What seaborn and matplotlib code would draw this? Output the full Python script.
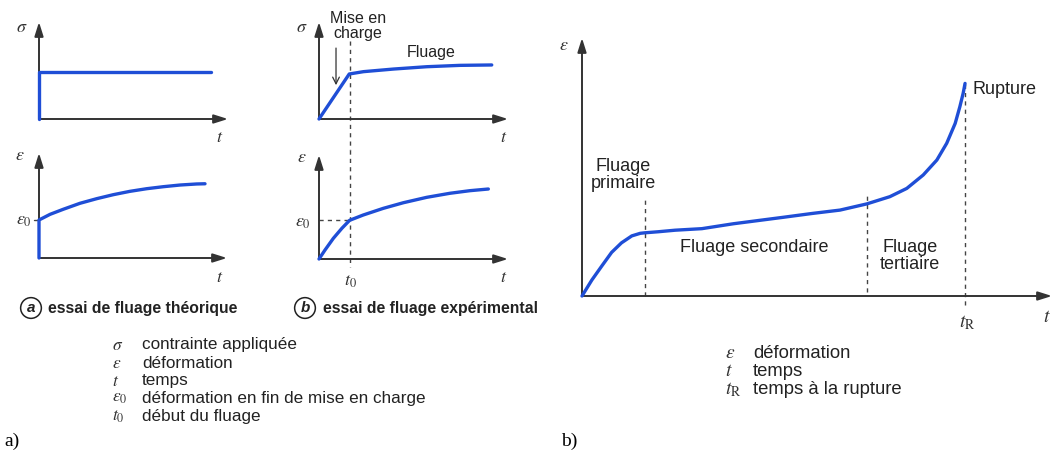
# ===================== IMPORT PACKAGES =====================
import numpy as np
import pandas as pd
import matplotlib.pyplot as plt
import seaborn as sns

# ===================== 1. DATA =====================
# a) essai de fluage theorique
a_sig_t = [0, 0, 9.1]
a_sig = [0, 4.85, 4.85]
a_eps_t = [0, 0, 0.59, 1.29, 2.18, 3.07, 3.95, 4.84, 5.73, 6.61, 7.50, 8.39, 8.83]
a_eps = [0, 3.62, 4.16, 4.64, 5.21, 5.65, 6.03, 6.35, 6.60, 6.79, 6.95, 7.05, 7.07]
a_eps0 = 3.62

# b) essai de fluage experimental
b_sig_t = [0, 1.60, 2.35, 3.94, 5.70, 7.46, 9.14]
b_sig = [0, 4.64, 4.88, 5.15, 5.39, 5.53, 5.57]
b_eps_t = [0, 0.32, 0.76, 1.21, 1.62, 2.34, 3.40, 4.46, 5.70, 6.93, 7.99, 8.96]
b_eps = [0, 0.87, 1.99, 2.95, 3.72, 4.23, 4.87, 5.41, 5.93, 6.32, 6.57, 6.73]
b_t0 = 1.62
b_eps0 = 3.75

# creep curve (three stages up to rupture)
creep_t = [0, 0.21, 0.42, 0.63, 0.84, 1.06, 1.24, 1.34, 1.62, 1.98, 2.55,
           3.22, 4.28, 4.90, 5.49, 6.06, 6.55, 6.91, 7.26, 7.55, 7.76,
           7.94, 8.04, 8.11, 8.15]
creep_eps = [0, 0.62, 1.16, 1.69, 2.06, 2.33, 2.43, 2.45, 2.49, 2.55, 2.61,
             2.80, 3.05, 3.20, 3.33, 3.57, 3.85, 4.17, 4.69, 5.27, 5.92,
             6.69, 7.34, 7.86, 8.24]
stage_t = [1.34, 6.06, 8.15]
stage_top = [3.84, 3.88, 8.24]
stage_bottom = [0, 0.15, -0.35]

legend_a = [(r'$\sigma$', 'contrainte appliquée'),
            (r'$\varepsilon$', 'déformation'),
            (r'$t$', 'temps'),
            (r'$\varepsilon_0$', 'déformation en fin de mise en charge'),
            (r'$t_0$', 'début du fluage')]
legend_b = [(r'$\varepsilon$', 'déformation'),
            (r'$t$', 'temps'),
            (r'$t_\mathrm{R}$', 'temps à la rupture')]

# ===================== 2. STYLE =====================
sns.set_theme(style='white')
plt.rcParams['font.family'] = ['Liberation Sans', 'DejaVu Sans']
plt.rcParams['mathtext.fontset'] = 'stix'

W, H = 1055, 459
BLUE = '#1f4ed6'
INK = '#222222'
fig = plt.figure(figsize=(W / 100, H / 100), dpi=100)


def panel(x0, ytop, x1, yorig):
    """Axes whose origin is at pixel (x0, yorig) with arrow ends at x1 / ytop."""
    ax = fig.add_axes([x0 / W, 1 - yorig / H, (x1 - x0) / W, (yorig - ytop) / H])
    ax.set_xlim(0, 10)
    ax.set_ylim(0, 10)
    ax.axis('off')
    arrow = dict(arrowstyle='-|>,head_length=0.7,head_width=0.22', color='#333333',
                 lw=1.4, shrinkA=0, shrinkB=0)
    ax.annotate('', xy=(1, 0), xytext=(0, 0), xycoords='axes fraction', arrowprops=arrow)
    ax.annotate('', xy=(0, 1), xytext=(0, 0), xycoords='axes fraction', arrowprops=arrow)
    return ax


def curve(ax, t, y):
    df = pd.DataFrame({'t': t, 'y': y})
    sns.lineplot(data=df, x='t', y='y', sort=False, estimator=None, ax=ax,
                 color=BLUE, lw=2.4, clip_on=False, zorder=3)
    ax.lines[-1].set_solid_joinstyle('round')
    ax.set_xlim(0, 10)
    ax.set_ylim(0, 10)
    ax.axis('off')


def ftext(x, y, s, **kw):
    kw.setdefault('va', 'center')
    kw.setdefault('color', INK)
    fig.text(x / W, 1 - y / H, s, **kw)


dash = dict(color='#444444', lw=1.0, ls=(0, (3, 3)), clip_on=False)
sym = dict(fontsize=13, color='#333333')

# ===================== 3. PANEL a =====================
ax = panel(39, 22, 228, 119)
curve(ax, a_sig_t, a_sig)
ftext(22, 27, r'$\sigma$', ha='center', **sym)
ftext(220, 137, r'$t$', ha='center', **sym)

ax = panel(39, 153, 227, 258)
curve(ax, a_eps_t, a_eps)
ax.plot([-0.25, 0], [a_eps0, a_eps0], color='#444444', lw=1.0, clip_on=False)
ftext(20, 156, r'$\varepsilon$', ha='center', **sym)
ftext(24, 221, r'$\varepsilon_0$', ha='center', **sym)
ftext(220, 277, r'$t$', ha='center', **sym)

# ===================== 4. PANEL b =====================
ax = panel(319, 22, 508, 119)
curve(ax, b_sig_t, b_sig)
ax.plot([b_t0, b_t0], [8.0, -3.2], **dash)
ax.annotate('', xy=(0.9, 3.2), xytext=(0.9, 7.6),
            arrowprops=dict(arrowstyle='->', color='#333333', lw=0.9))
ftext(302, 27, r'$\sigma$', ha='center', **sym)
ftext(504, 137, r'$t$', ha='center', **sym)
ftext(358, 26, 'Mise en\ncharge', ha='center', fontsize=11.5, linespacing=0.95)
ftext(431, 53, 'Fluage', ha='center', fontsize=11.5)

ax = panel(319, 155, 508, 259)
curve(ax, b_eps_t, b_eps)
ax.plot([b_t0, b_t0], [10.5, -0.8], **dash)
ax.plot([0, b_t0], [b_eps0, b_eps0], **dash)
ftext(302, 158, r'$\varepsilon$', ha='center', **sym)
ftext(303, 222, r'$\varepsilon_0$', ha='center', **sym)
ftext(350, 281, r'$t_0$', ha='center', **sym)
ftext(504, 278, r'$t$', ha='center', **sym)

# captions
circ = dict(boxstyle='circle,pad=0.22', fc='white', ec='#222222', lw=1.1)
ftext(31, 308, 'a', ha='center', fontsize=11, fontweight='bold', fontstyle='italic', bbox=circ)
ftext(48, 308, 'essai de fluage théorique', ha='left', fontsize=11.3, fontweight='bold')
ftext(305, 308, 'b', ha='center', fontsize=11, fontweight='bold', fontstyle='italic', bbox=circ)
ftext(323, 308, 'essai de fluage expérimental', ha='left', fontsize=11.3, fontweight='bold')

for i, (s, txt) in enumerate(legend_a):
    y = 345 + i * 18
    ftext(112, y, s, ha='left', fontsize=12.5, color='#333333')
    ftext(142, y, txt, ha='left', fontsize=12.3)

# ===================== 5. CREEP CURVE =====================
ax = panel(582, 38, 1052, 296)
curve(ax, creep_t, creep_eps)
for t, lo, hi in zip(stage_t, stage_bottom, stage_top):
    ax.plot([t, t], [lo, hi], **dash)
ftext(564, 45, r'$\varepsilon$', ha='center', **sym)
ftext(1047, 318, r'$t$', ha='center', fontsize=14, color='#333333')
ftext(967, 323, r'$t_\mathrm{R}$', ha='center', fontsize=14, color='#333333')
ftext(623, 175, 'Fluage\nprimaire', ha='center', fontsize=13, linespacing=0.95)
ftext(754, 247, 'Fluage secondaire', ha='center', fontsize=13)
ftext(910, 256, 'Fluage\ntertiaire', ha='center', fontsize=13, linespacing=0.95)
ftext(972, 90, 'Rupture', ha='left', fontsize=13)

for i, (s, txt) in enumerate(legend_b):
    y = 353 + i * 18.5
    ftext(725, y, s, ha='left', fontsize=14, color='#333333')
    ftext(753, y, txt, ha='left', fontsize=13.3)

# sub-figure tags
ftext(4, 441, 'a)', ha='left', fontsize=14, family='Liberation Serif', color='black')
ftext(561, 441, 'b)', ha='left', fontsize=14, family='Liberation Serif', color='black')

plt.savefig('out.png', dpi=100)
plt.close()
